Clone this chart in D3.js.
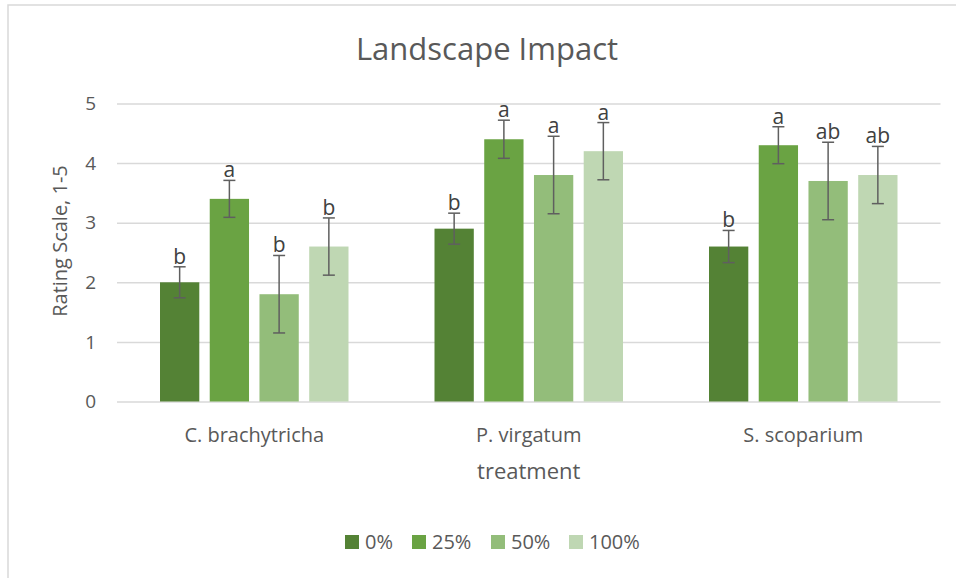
<!DOCTYPE html>
<html>
<head>
<meta charset="utf-8">
<script src="https://cdn.jsdelivr.net/npm/d3@7"></script>
<style>
body { margin: 0; background: #fff; }
svg { font-family: "Open Sans", sans-serif; }
.grid line { stroke: #d9d9d9; stroke-width: 1.5; }
.grid path { display: none; }
</style>
</head>
<body>
<svg width="956" height="578"></svg>
<script>
var categories = [ "C. brachytricha", "P. virgatum", "S. scoparium" ];
var series = [ "0%", "25%", "50%", "100%" ];
var yTicks = [ 0, 1, 2, 3, 4, 5 ];

// means per treatment, one value per species
var values0 = [ 2.0, 2.9, 2.6 ];
var values25 = [ 3.4, 4.4, 4.3 ];
var values50 = [ 1.8, 3.8, 3.7 ];
var values100 = [ 2.6, 4.2, 3.8 ];

// error bar half-widths
var err0 = [ 0.26, 0.26, 0.27 ];
var err25 = [ 0.31, 0.32, 0.31 ];
var err50 = [ 0.65, 0.65, 0.65 ];
var err100 = [ 0.48, 0.48, 0.48 ];

// significance letters
var letters0 = [ "b", "b", "b" ];
var letters25 = [ "a", "a", "a" ];
var letters50 = [ "b", "a", "ab" ];
var letters100 = [ "b", "a", "ab" ];

var colors = [ "#548235", "#6aa343", "#93bd7a", "#bfd7b3" ];

var allValues = [ values0, values25, values50, values100 ];
var allErr = [ err0, err25, err50, err100 ];
var allLetters = [ letters0, letters25, letters50, letters100 ];

var data = [];
categories.forEach(function(c, ci) {
	series.forEach(function(s, si) {
		data.push({
			cat : c,
			ser : s,
			si : si,
			v : allValues[si][ci],
			e : allErr[si][ci],
			letter : allLetters[si][ci]
		});
	});
});

var textColor = "#595959";
var svg = d3.select("svg");

// chart border
svg.append("rect").attr("x", 8).attr("y", 5).attr("width", 960).attr("height", 600)
		.attr("fill", "none").attr("stroke", "#d9d9d9").attr("stroke-width", 1.5);

var plot = { left : 117, right : 940.5, top : 103.5, bottom : 401.5 };

var xScale = d3.scaleBand().domain(categories).range([ plot.left, plot.right ]);
var xInner = d3.scaleBand().domain(series)
		.range([ 43, xScale.bandwidth() - 43 ]).paddingInner(0.21);
var yScale = d3.scaleLinear().domain([ 0, 5 ]).range([ plot.bottom, plot.top ]);

svg.append("g").attr("class", "grid")
		.attr("transform", "translate(" + plot.left + ",0)")
		.call(d3.axisLeft(yScale).tickValues(yTicks)
				.tickSize(-(plot.right - plot.left)).tickFormat(""));

// y tick labels
svg.append("g").selectAll("text").data(yTicks).enter().append("text")
		.attr("x", 96).attr("y", function(d) {
			return yScale(d);
		}).attr("dy", "0.35em").attr("text-anchor", "end")
		.attr("fill", textColor).style("font-size", "19px")
		.text(function(d) {
			return d;
		});

// bars
var barG = svg.append("g").selectAll("g").data(data).enter().append("g")
		.attr("transform", function(d) {
			return "translate(" + (xScale(d.cat) + xInner(d.ser)) + ",0)";
		});
barG.append("rect").attr("x", 0).attr("y", function(d) {
	return yScale(d.v);
}).attr("width", xInner.bandwidth()).attr("height", function(d) {
	return yScale(0) - yScale(d.v);
}).attr("fill", function(d) {
	return colors[d.si];
});

// error bars
var bw = xInner.bandwidth();
barG.append("line").attr("x1", bw / 2).attr("x2", bw / 2)
		.attr("y1", function(d) {
			return yScale(d.v + d.e);
		}).attr("y2", function(d) {
			return yScale(d.v - d.e);
		}).attr("stroke", "#5f5f5f").attr("stroke-width", 1.5);
[ 1, -1 ].forEach(function(sign) {
	barG.append("line").attr("x1", bw / 2 - 6).attr("x2", bw / 2 + 6)
			.attr("y1", function(d) {
				return yScale(d.v + sign * d.e);
			}).attr("y2", function(d) {
				return yScale(d.v + sign * d.e);
			}).attr("stroke", "#5f5f5f").attr("stroke-width", 1.5);
});

// letters
barG.append("text").attr("x", bw / 2).attr("y", function(d) {
	return yScale(d.v + d.e) - 3;
}).attr("text-anchor", "middle").attr("fill", "#404040")
		.style("font-size", "21px").text(function(d) {
			return d.letter;
		});

// category labels
svg.append("g").selectAll("text").data(categories).enter().append("text")
		.attr("x", function(d) {
			return xScale(d) + xScale.bandwidth() / 2;
		}).attr("y", 442).attr("text-anchor", "middle")
		.attr("fill", textColor).style("font-size", "20px").text(function(d) {
			return d;
		});

// axis titles
svg.append("text").attr("x", (plot.left + plot.right) / 2).attr("y", 479)
		.attr("text-anchor", "middle").attr("fill", textColor)
		.style("font-size", "22px").text("treatment");
svg.append("text").attr("transform", "translate(67,241) rotate(-90)")
		.attr("text-anchor", "middle").attr("fill", textColor)
		.style("font-size", "20px").text("Rating Scale, 1-5");

// title
svg.append("text").attr("x", 487).attr("y", 60).attr("text-anchor", "middle")
		.attr("fill", textColor).style("font-size", "31px")
		.text("Landscape Impact");

// legend
var legendX = [ 345, 412, 491, 569 ];
var legend = svg.append("g").selectAll("g").data(series).enter().append("g")
		.attr("transform", function(d, i) {
			return "translate(" + legendX[i] + ",535)";
		});
legend.append("rect").attr("width", 14).attr("height", 14).attr("fill",
		function(d, i) {
			return colors[i];
		});
legend.append("text").attr("x", 20).attr("y", 7).attr("dy", "0.35em")
		.attr("fill", textColor).style("font-size", "20px").text(function(d) {
			return d;
		});
</script>
</body>
</html>
